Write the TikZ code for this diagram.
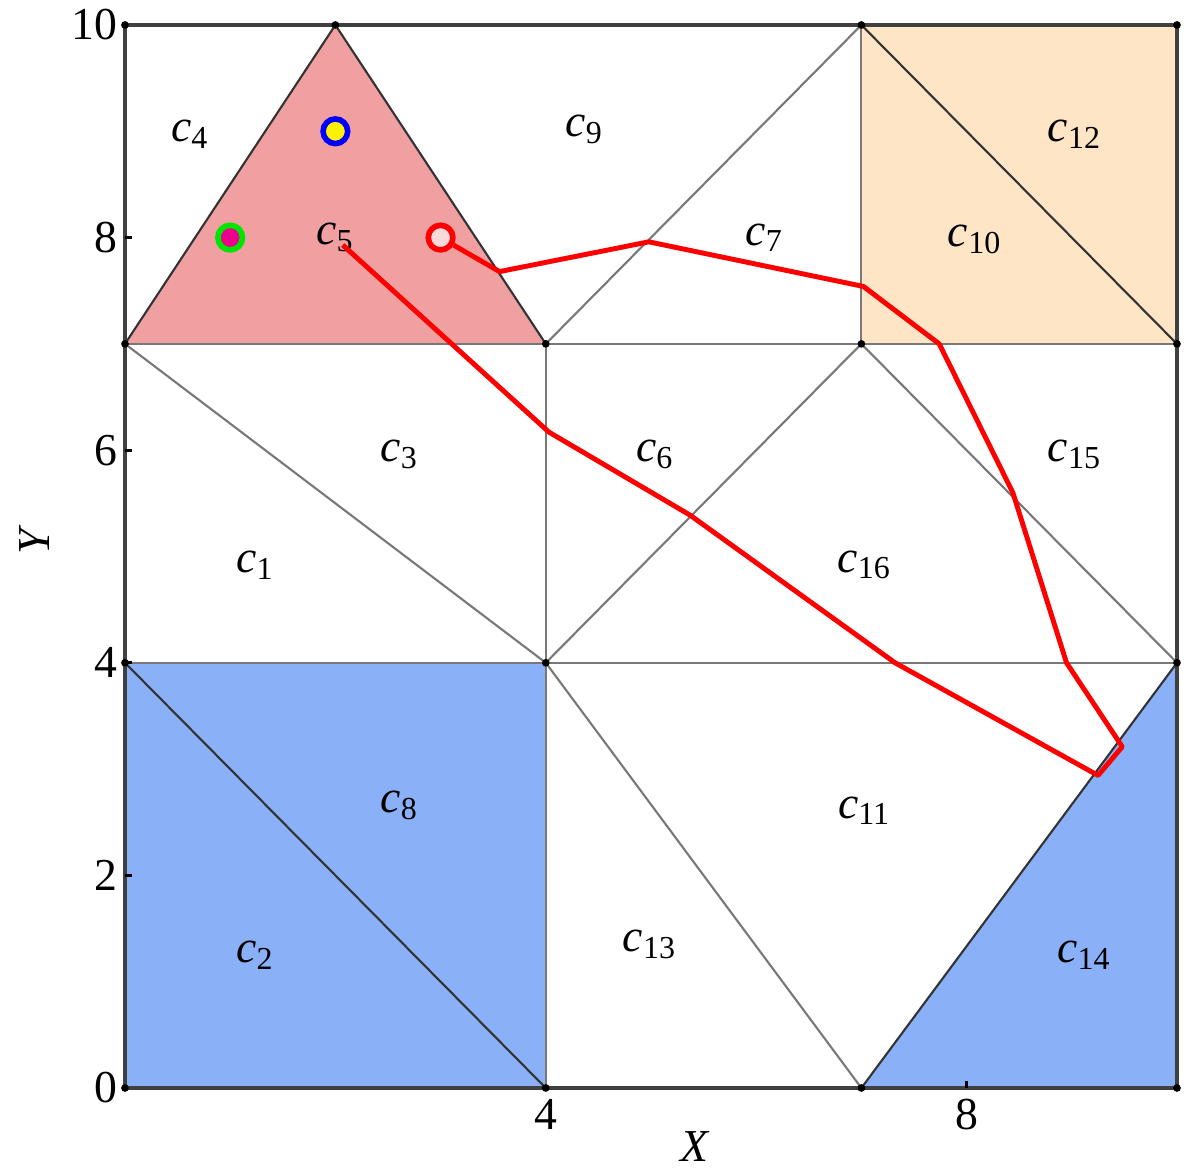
\documentclass[tikz,border=0pt]{standalone}
\usepackage{fontspec}
\setmainfont{Liberation Serif}
\usetikzlibrary{positioning}
\definecolor{tripink}{RGB}{240,160,160}
\definecolor{sqorange}{RGB}{253,229,197}
\definecolor{sqblue}{RGB}{138,176,248}
\definecolor{meshgray}{RGB}{120,120,120}
\newcommand{\cname}[1]{\textit{c}\textsubscript{#1}}

\begin{document}
\begin{tikzpicture}[x=1.052cm,y=1.063cm,font=\fontsize{13}{15}\selectfont,
  mesh/.style={draw=meshgray,line width=0.6pt},
  edge/.style={draw=black!80,line width=0.6pt},
  lbl/.style={inner sep=0pt},
  tick/.style={inner sep=1pt},
  ring/.style={circle,draw,line width=1.6pt,minimum size=7pt,inner sep=0pt},
  track/.style={red,line width=1.4pt,line join=round}]
\useasboundingbox (-1.188,-0.781) rectangle (10.219,10.235);
% coloured cells
\fill[sqblue] (0,0) rectangle (4,4);\fill[sqblue] (7,0)--(10,0)--(10,4)--cycle;
\fill[sqorange] (7,7) rectangle (10,10);
\fill[tripink] (0,7)--(2,10)--(4,7)--cycle;
% mesh
\draw[mesh] (0,7)--(10,7) (0,4)--(10,4) (4,0)--(4,7) (7,7)--(7,10);
\draw[mesh] (4,7)--(7,10) (0,7)--(4,4)--(7,7)--(10,4) (4,4)--(7,0);
\draw[edge] (0,7)--(2,10)--(4,7) (7,10)--(10,7) (0,4)--(4,0) (7,0)--(10,4);
\draw[draw=black!75,line width=1pt] (0,0) rectangle (10,10);
\foreach \p in {(0,0),(4,0),(7,0),(10,0),(0,4),(4,4),(10,4),(0,7),(4,7),(7,7),(10,7),(0,10),(2,10),(7,10),(10,10)}
  \fill[black] \p circle (1.1pt);
\foreach \y in {2,4,6,8} \draw[line width=0.8pt] (0,\y)--++(0.07,0);
\draw[line width=0.8pt] (8,0)--++(0,0.07);
% axes
\node[tick,left=1pt] (y0) at (0,0) {0};\node[tick,left=1pt] (y2) at (0,2) {2};
\node[tick,left=1pt] (y4) at (0,4) {4};\node[tick,left=1pt] (y6) at (0,6) {6};
\node[tick,left=1pt] (y8) at (0,8) {8};\node[tick,left=1pt] (y10) at (0,10) {10};
\node[tick,below=2pt] (x4) at (4,0) {4};\node[tick,below=2pt] (x8) at (8,0) {8};
\node[inner sep=0pt] (xlab) at (5.42,-0.55) {\textit{X}};
\node[rotate=90] (ylab) at (-0.86,5.16) {\textit{Y}};
% cell labels
\node[lbl] (c1) at (1.24,4.92) {\cname{1}};\node[lbl] (c2) at (1.24,1.25) {\cname{2}};
\node[lbl] (c3) at (2.61,5.96) {\cname{3}};\node[lbl] (c4) at (0.62,8.97) {\cname{4}};
\node[lbl] (c5) at (2,8) {\cname{5}};\node[lbl] (c6) at (5.04,5.96) {\cname{6}};
\node[lbl] (c7) at (6.08,8.0) {\cname{7}};\node[lbl] (c8) at (2.61,2.66) {\cname{8}};
\node[lbl] (c9) at (4.37,9.02) {\cname{9}};\node[lbl] (c10) at (8.08,7.98) {\cname{10}};
\node[lbl] (c11) at (7.03,2.61) {\cname{11}};\node[lbl] (c12) at (9.03,8.97) {\cname{12}};
\node[lbl] (c13) at (4.99,1.35) {\cname{13}};\node[lbl] (c14) at (9.12,1.25) {\cname{14}};
\node[lbl] (c15) at (9.03,5.96) {\cname{15}};\node[lbl] (c16) at (7.03,4.92) {\cname{16}};
% markers
\node[ring,draw=blue,fill=yellow] (agent) at (2,9) {};
\node[ring,draw=green!90!black,fill=magenta] (other) at (1,8) {};
\node[ring,draw=red,fill=tripink!40] (start) at (3,8) {};
% route
\coordinate (p1) at (3.56,7.68);\coordinate (p2) at (4.98,7.96);\coordinate (p3) at (7.02,7.54);
\coordinate (p4) at (7.74,7.0);\coordinate (p5) at (8.44,5.6);\coordinate (p6) at (8.95,4.0);
\coordinate (p7) at (9.48,3.21);\coordinate (p8) at (9.25,2.94);\coordinate (p9) at (7.32,4.0);
\coordinate (p10) at (5.37,5.39);\coordinate (p11) at (4.03,6.17);\coordinate (goal) at (2.07,7.93);
\draw[track] (start)--(p1)--(p2)--(p3)--(p4)--(p5)--(p6)--(p7)--(p8)--(p9)--(p10)--(p11)--(goal);
\end{tikzpicture}
\end{document}
